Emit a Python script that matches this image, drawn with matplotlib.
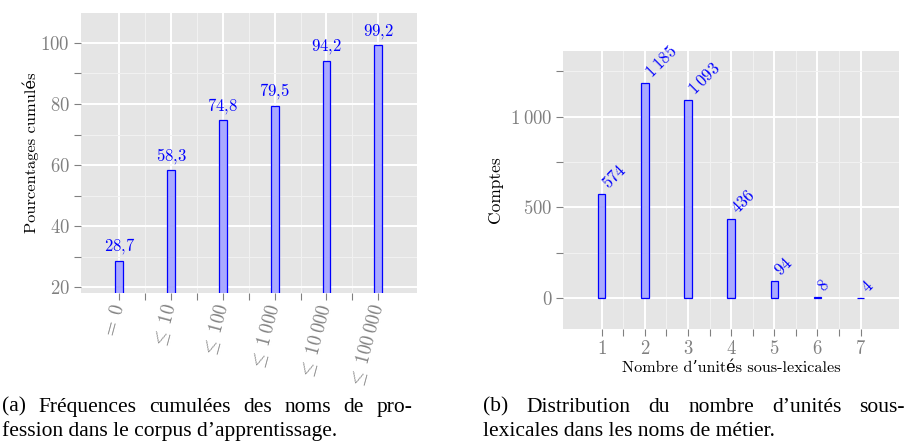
import numpy as np
import matplotlib
matplotlib.use("Agg")
import matplotlib.pyplot as plt
from matplotlib.ticker import MultipleLocator, FixedLocator

# ---------------- data ----------------
freq_labels = [r'$=\;0$', r'$\leq\;10$', r'$\leq\;100$', r'$\leq\;1\:000$',
               r'$\leq\;10\:000$', r'$\leq\;100\:000$']
freq_values = [28.7, 58.3, 74.8, 79.5, 94.2, 99.2]

nb_units = [1, 2, 3, 4, 5, 6, 7]
counts = [574, 1185, 1093, 436, 94, 8, 4]

# ---------------- style ----------------
# cmr10 for the LaTeX look, DejaVu Serif only for the accented letters
plt.rcParams['font.family'] = ['cmr10', 'DejaVu Serif']
plt.rcParams['mathtext.fontset'] = 'cm'
plt.rcParams['axes.formatter.use_mathtext'] = True

PANEL = '#e5e5e5'
FILL = '#aaaaff'
EDGE = '#0000ff'
GREY = '#808080'
W, H = 907, 442


def fr(num):
    # french number formatting, small space for thousands
    s = f'{num:,}'.replace(',', r'\:')
    return '$' + s.replace('.', '{,}') + '$'


def gg_style(ax):
    ax.set_facecolor(PANEL)
    for s in ax.spines.values():
        s.set_visible(False)
    ax.grid(which='major', color='white', lw=1.4)
    ax.grid(which='minor', color='#f2f2f2', lw=0.7)
    ax.set_axisbelow(True)
    ax.tick_params(which='both', direction='out', length=5, width=0.8,
                   color=GREY, labelcolor=GREY, labelsize=13.5, pad=3)


fig = plt.figure(figsize=(W / 100, H / 100), dpi=100)

# ---------- (a) ----------
ax1 = fig.add_axes([81 / W, 1 - 293 / H, (417 - 81) / W, (293 - 13) / H])
gg_style(ax1)
x1 = np.arange(1, len(freq_values) + 1)
ax1.bar(x1, freq_values, width=0.15, color=FILL, edgecolor=EDGE, lw=0.9)
for xi, v in zip(x1, freq_values):
    ax1.annotate(fr(v), (xi, v), xytext=(0, 7), textcoords='offset points',
                 ha='center', va='baseline', color=EDGE, fontsize=12)
ax1.set_xlim(0.26, 6.75)
ax1.set_ylim(18.1, 109.8)
ax1.set_xticks(x1)
ax1.set_xticklabels(freq_labels, rotation=75, ha='right', va='center',
                    rotation_mode='anchor')
ax1.xaxis.set_minor_locator(FixedLocator(x1[:-1] + 0.5))
ax1.yaxis.set_major_locator(MultipleLocator(20))
ax1.yaxis.set_minor_locator(MultipleLocator(10))
ax1.set_ylabel('Pourcentages cumulés', fontsize=11.8, color='black', labelpad=1)

# ---------- (b) ----------
ax2 = fig.add_axes([563.3 / W, 1 - 329.3 / H, (899 - 563.3) / W, (329.3 - 50.7) / H])
gg_style(ax2)
ax2.bar(nb_units, counts, width=0.17, color=FILL, edgecolor=EDGE, lw=0.9)
for xi, c in zip(nb_units, counts):
    ax2.text(xi + 0.2, c + 12, fr(c), rotation=45, rotation_mode='anchor',
             ha='left', va='bottom', color=EDGE, fontsize=12)
ax2.set_xlim(0.11, 7.89)
ax2.set_ylim(-171, 1363)
ax2.set_xticks(nb_units)
ax2.set_xticklabels([f'${n}$' for n in nb_units])
ax2.xaxis.set_minor_locator(FixedLocator(np.array(nb_units[:-1]) + 0.5))
ax2.yaxis.set_major_locator(FixedLocator([0, 500, 1000]))
ax2.set_yticklabels([fr(t) for t in [0, 500, 1000]])
ax2.yaxis.set_minor_locator(FixedLocator([250, 750, 1250]))
ax2.set_ylabel('Comptes', fontsize=12.5, color='black', labelpad=5)
ax2.set_xlabel('Nombre d’unités sous-lexicales', fontsize=11.7, color='black',
               labelpad=2)

# ---------- captions ----------
renderer = fig.canvas.get_renderer()
cap_kw = dict(family='Liberation Serif', fontsize=15.5, va='baseline')


def justified(line, x0, x1, y):
    words = line.split()
    texts = [fig.text(0, 1 - y / H, w, **cap_kw) for w in words]
    widths = [t.get_window_extent(renderer).width for t in texts]
    gap = (x1 - x0 - sum(widths)) / (len(words) - 1)
    x = x0
    for t, w in zip(texts, widths):
        t.set_x(x / W)
        x += w + gap


justified('(a) Fréquences cumulées des noms de pro-', 2, 412, 411.7)
fig.text(2 / W, 1 - 435.7 / H, 'fession dans le corpus d’apprentissage.', **cap_kw)
justified('(b) Distribution du nombre d’unités sous-', 483, 905, 411.7)
fig.text(483 / W, 1 - 435.7 / H, 'lexicales dans les noms de métier.', **cap_kw)

fig.savefig('out.png', dpi=100)
